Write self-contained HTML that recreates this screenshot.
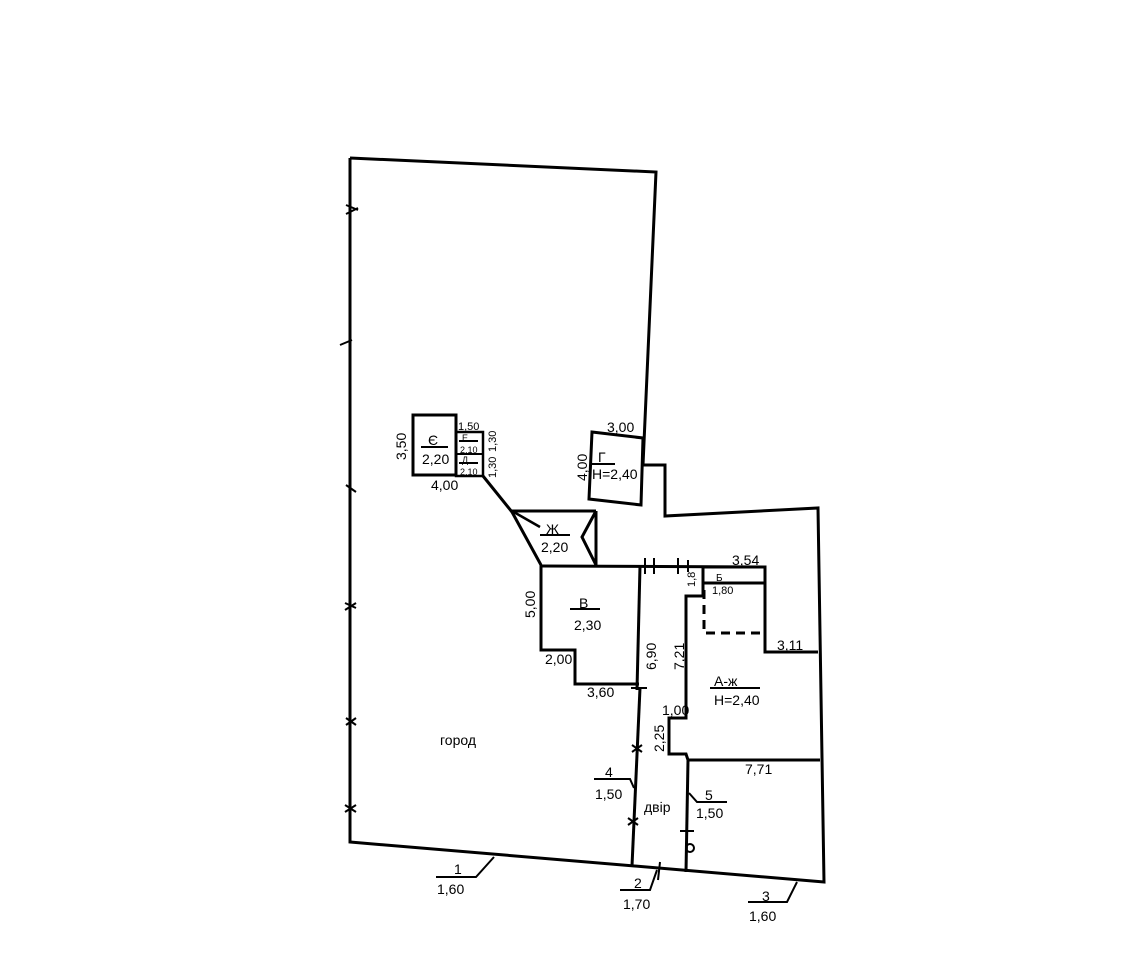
<!DOCTYPE html>
<html><head><meta charset="utf-8"><style>
html,body{margin:0;padding:0;background:#fff;width:1136px;height:980px;overflow:hidden}
svg{display:block}
text{font-family:"Liberation Sans","DejaVu Sans",sans-serif;fill:#000}
</style></head><body>
<svg width="1136" height="980" viewBox="0 0 1136 980">
<g fill="none" stroke="#000" stroke-width="3" stroke-linejoin="miter">
<polyline points="350,158 656,172 643,465 665,465 665,516 818,508 824,882 350,842 350,158"/>
<rect x="413" y="415" width="43" height="60"/>
<rect x="456" y="432" width="27" height="44" stroke-width="2.5"/>
<line x1="456" y1="454" x2="483" y2="454" stroke-width="2"/>
<polygon points="592,432 643,438 641,505 589,499"/>
<polyline points="483,476 512,512 541,565"/>
<line x1="512" y1="511" x2="596" y2="511"/>
<line x1="596" y1="511" x2="596" y2="565"/>
<polyline points="596,511 582,537 596,565"/>
<line x1="512" y1="511" x2="540" y2="527" stroke-width="2.5"/>
<polyline points="541,565 541,650 575,650 575,684 639,684"/>
<line x1="541" y1="566" x2="766" y2="567"/>
<line x1="640" y1="566" x2="637" y2="690"/>
<polyline points="703,567 765,567 765,652 818,652"/>
<line x1="703" y1="583" x2="765" y2="583"/>
<line x1="703" y1="567" x2="703" y2="596"/>
<polyline points="704,590 704,633 763,633" stroke-dasharray="9,6"/>
<polyline points="703,596 686,596 686,718 669,718 669,754 686,754 688,760 820,760"/>
<line x1="640" y1="688" x2="632" y2="866"/>
<line x1="688" y1="760" x2="686" y2="872"/>
<g stroke-width="2">
<line x1="645" y1="558" x2="645" y2="574"/><line x1="654" y1="558" x2="654" y2="574"/>
<line x1="678" y1="558" x2="678" y2="574"/><line x1="688" y1="560" x2="688" y2="572"/>
<line x1="631" y1="688" x2="647" y2="688"/>
<line x1="632" y1="745" x2="642" y2="752"/><line x1="642" y1="745" x2="632" y2="752"/>
<line x1="628" y1="818" x2="638" y2="825"/><line x1="638" y1="818" x2="628" y2="825"/>
<line x1="660" y1="862" x2="658" y2="880"/>
<line x1="680" y1="831" x2="694" y2="831"/>
<line x1="346" y1="205" x2="358" y2="210"/><line x1="346" y1="214" x2="358" y2="208"/>
<line x1="340" y1="345" x2="352" y2="340"/>
<line x1="346" y1="485" x2="356" y2="492"/>
<line x1="345" y1="603" x2="356" y2="608"/><line x1="345" y1="610" x2="356" y2="603"/>
<line x1="346" y1="718" x2="356" y2="725"/><line x1="346" y1="725" x2="356" y2="718"/>
<line x1="345" y1="805" x2="356" y2="812"/><line x1="345" y1="812" x2="356" y2="805"/>
</g>
<g stroke-width="2">
<polyline points="436,877 476,877 494,857"/>
<polyline points="620,890 650,890 657,870"/>
<polyline points="748,902 787,902 797,882"/>
<polyline points="594,779 630,779 634,788"/>
<polyline points="727,802 697,802 689,793"/>
<line x1="421" y1="447" x2="448" y2="447"/>
<line x1="570" y1="609" x2="600" y2="609"/>
<line x1="540" y1="535" x2="570" y2="535"/>
<line x1="592" y1="464" x2="615" y2="464"/>
<line x1="710" y1="688" x2="760" y2="688"/>
<line x1="459" y1="441" x2="478" y2="441"/>
<line x1="459" y1="463" x2="478" y2="463"/>
</g>
<circle cx="690" cy="848" r="4" stroke-width="2"/>
</g>
<g font-size="14">
<text x="428" y="445">Є</text><text x="422" y="464">2,20</text>
<text x="406" y="460" transform="rotate(-90 406 460)">3,50</text>
<text x="431" y="490">4,00</text>
<text x="458" y="430" font-size="11">1,50</text>
<text x="462" y="441" font-size="9">Е</text><text x="460" y="453" font-size="9">2,10</text>
<text x="462" y="463" font-size="9">Д</text><text x="460" y="475" font-size="9">2,10</text>
<text x="496" y="452" font-size="11" transform="rotate(-90 496 452)">1,30</text>
<text x="496" y="478" font-size="11" transform="rotate(-90 496 478)">1,30</text>
<text x="607" y="432">3,00</text>
<text x="598" y="462">Г</text><text x="592" y="479">Н=2,40</text>
<text x="587" y="481" transform="rotate(-90 587 481)">4,00</text>
<text x="546" y="534">Ж</text><text x="541" y="552">2,20</text>
<text x="579" y="608">В</text><text x="574" y="630">2,30</text>
<text x="535" y="618" transform="rotate(-90 535 618)">5,00</text>
<text x="545" y="664">2,00</text><text x="587" y="697">3,60</text>
<text x="656" y="670" transform="rotate(-90 656 670)">6,90</text>
<text x="684" y="670" transform="rotate(-90 684 670)">7,21</text>
<text x="695" y="587" font-size="11" transform="rotate(-90 695 587)">1,8</text>
<text x="732" y="565">3,54</text>
<text x="716" y="581" font-size="10">Б</text><text x="712" y="594" font-size="11">1,80</text>
<text x="777" y="650">3,11</text>
<text x="714" y="686">А-ж</text><text x="714" y="705">Н=2,40</text>
<text x="662" y="715">1,00</text>
<text x="664" y="752" transform="rotate(-90 664 752)">2,25</text>
<text x="745" y="774">7,71</text>
<text x="440" y="745">город</text>
<text x="644" y="812">двір</text>
<text x="605" y="777">4</text><text x="595" y="799">1,50</text>
<text x="705" y="800">5</text><text x="696" y="818">1,50</text>
<text x="454" y="874">1</text><text x="437" y="894">1,60</text>
<text x="634" y="888">2</text><text x="623" y="909">1,70</text>
<text x="762" y="901">3</text><text x="749" y="921">1,60</text>
</g>
</svg>
</body></html>
